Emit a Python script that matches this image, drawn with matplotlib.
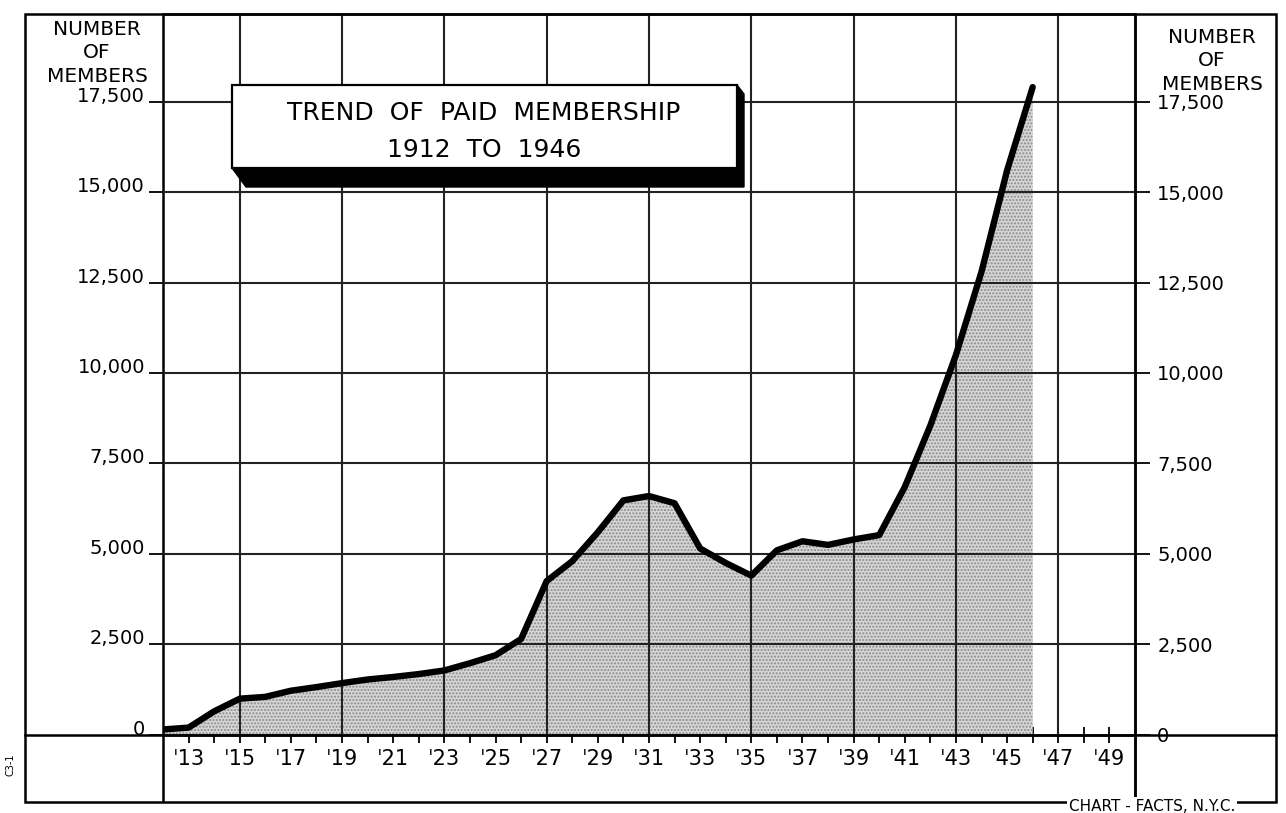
import numpy as np
import matplotlib.pyplot as plt
from matplotlib.patches import Rectangle, Polygon

# paid membership per year
years = np.arange(1912, 1947)
members = [150, 200, 650, 1000, 1050, 1220, 1320, 1430, 1530, 1600,
           1680, 1780, 1980, 2200, 2650, 4250, 4800, 5600, 6480, 6600,
           6400, 5150, 4750, 4400, 5100, 5350, 5250, 5400, 5520, 6850,
           8550, 10500, 12800, 15600, 17900]

y_ticks = [0, 2500, 5000, 7500, 10000, 12500, 15000, 17500]
y_labels = ['0', '2,500', '5,000', '7,500', '10,000', '12,500', '15,000', '17,500']
label_years = list(range(1913, 1950, 2))
grid_years = list(range(1915, 1948, 4))

W, H = 1286, 813
def fx(x): return x / W
def fy(y): return 1 - y / H

plt.rcParams['font.family'] = ['DejaVu Sans']
plt.rcParams['hatch.linewidth'] = 1.0
fig = plt.figure(figsize=(W / 100, H / 100), dpi=100)
fig.patch.set_facecolor('white')

ax = fig.add_axes([fx(163), fy(800), fx(1135) - fx(163), fy(14) - fy(800)])
ax.set_xlim(1912, 1950)
ax.set_ylim(-1800, 19920)

# shaded area and the trend line
ax.fill_between(years, members, 0, facecolor='#d6d6d6', hatch='.....',
                edgecolor='#8a8a8a', linewidth=0, zorder=2)
ax.plot(years, members, color='black', lw=4.6, solid_joinstyle='round',
        solid_capstyle='round', zorder=5)

# grid
for v in y_ticks[1:]:
    ax.axhline(v, color='#222222', lw=1.5, zorder=3)
ax.vlines(grid_years, 0, 19920, color='#222222', lw=1.5, zorder=3)
ax.axhline(0, xmin=(25 - 163) / 972, xmax=(1276 - 163) / 972, color='black',
           lw=1.8, clip_on=False, zorder=4)

# spines: left/right full height, bottom moved to zero
for s in ['left', 'right', 'top']:
    ax.spines[s].set_linewidth(1.8)
ax.spines['bottom'].set_position(('data', 0))
ax.spines['bottom'].set_linewidth(1.8)

ax.set_xticks(label_years)
ax.set_xticklabels(['\u02c8' + str(y)[2:] for y in label_years], fontsize=15)
ax.set_xticks(range(1913, 1950), minor=True)
ax.tick_params(axis='x', which='both', direction='inout', length=11, width=1.3, pad=5)

ax.set_yticks(y_ticks)
ax.set_yticklabels(y_labels, fontsize=14)
ax.tick_params(axis='y', direction='out', length=10, width=1.3, pad=3)
for lab in ax.get_yticklabels():
    lab.set_verticalalignment('baseline')

ax2 = ax.twinx()
ax2.set_ylim(ax.get_ylim())
ax2.set_yticks(y_ticks)
ax2.set_yticklabels(y_labels, fontsize=14)
ax2.tick_params(axis='y', direction='out', length=11, width=1.3, pad=5)
for s in ['left', 'top', 'bottom']:
    ax2.spines[s].set_visible(False)
ax2.spines['right'].set_linewidth(1.8)

# outer frame
fig.add_artist(Rectangle((fx(25), fy(802)), fx(1276) - fx(25), fy(14) - fy(802),
                         transform=fig.transFigure, fill=False, lw=1.8,
                         edgecolor='black'))

# axis headings
head = 'NUMBER\nOF\nMEMBERS'
fig.text(fx(97), fy(53), head, ha='center', va='center', fontsize=14.5,
         linespacing=1.3)
fig.text(fx(1212), fy(61), head, ha='center', va='center', fontsize=14.5,
         linespacing=1.3)

# title plate with extruded shadow
fig.add_artist(Polygon([(fx(232), fy(168)), (fx(737), fy(168)), (fx(737), fy(85)),
                        (fx(744), fy(94)), (fx(744), fy(187)), (fx(246), fy(187))],
                       closed=True, transform=fig.transFigure,
                       facecolor='black', edgecolor='black', lw=1))
fig.add_artist(Rectangle((fx(232), fy(168)), fx(737) - fx(232), fy(85) - fy(168),
                         transform=fig.transFigure, facecolor='white',
                         edgecolor='black', lw=1.6))
fig.text(fx(484), fy(113), 'TREND  OF  PAID  MEMBERSHIP', ha='center',
         va='center', fontsize=18)
fig.text(fx(484), fy(150), '1912  TO  1946', ha='center', va='center',
         fontsize=18)

fig.text(fx(1152), fy(806), 'CHART - FACTS, N.Y.C.', ha='center', va='center',
         fontsize=11, bbox=dict(facecolor='white', edgecolor='none', pad=1))
fig.text(fx(10), fy(765), 'C3-1', ha='center', va='center', rotation=90,
         fontsize=7)

fig.savefig('out.png', dpi=100, facecolor='white')
